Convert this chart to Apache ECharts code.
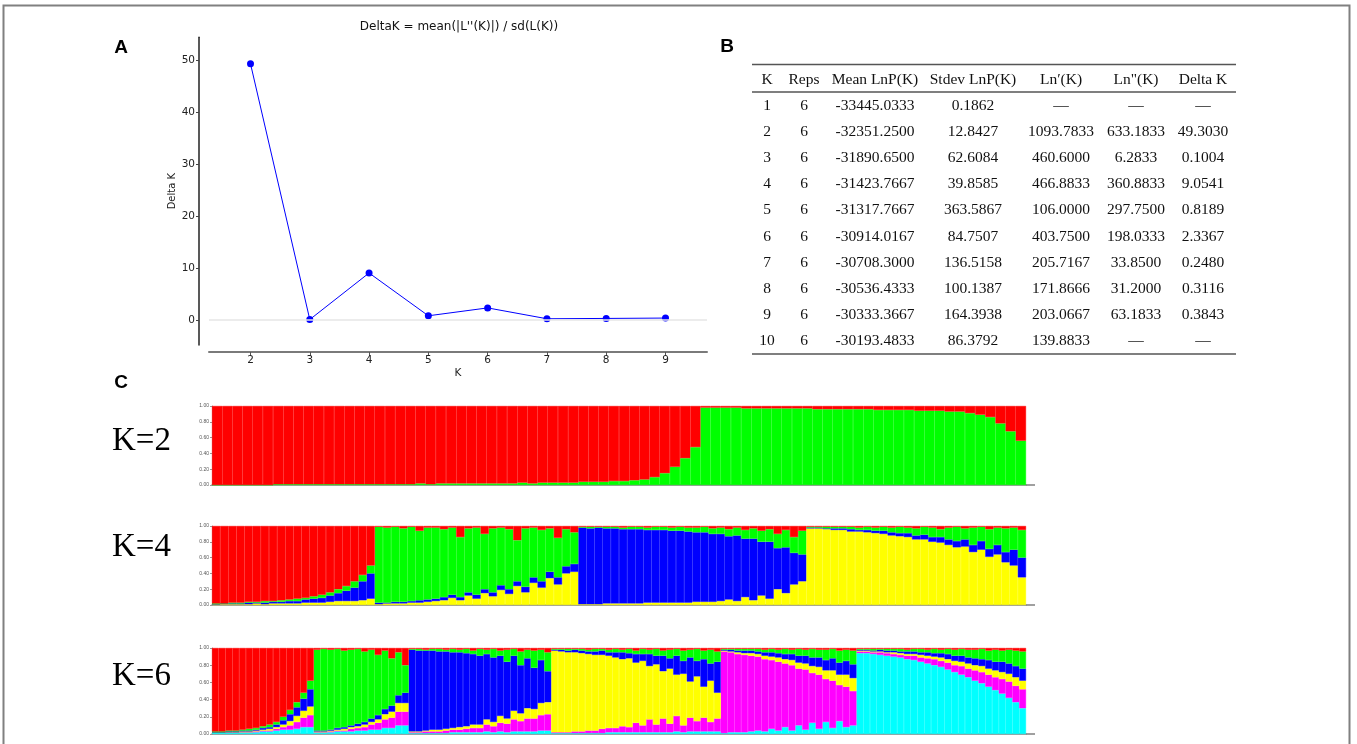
<!DOCTYPE html>
<html><head><meta charset="utf-8">
<script src="https://cdn.jsdelivr.net/npm/echarts@6.0.0/dist/echarts.min.js"></script>
<style>html,body{margin:0;padding:0;background:#fff}#c{width:1357px;height:744px}</style>
</head><body><div id="c"></div>
<script>
// ---------- Panel A data ----------
const kValues = [2, 3, 4, 5, 6, 7, 8, 9];
const deltaK = [49.3030, 0.1004, 9.0541, 0.8189, 2.3367, 0.2480, 0.3116, 0.3843];
const yTicksA = [0, 10, 20, 30, 40, 50];

// ---------- Panel B table ----------
const tableHeaders = ['K', 'Reps', 'Mean LnP(K)', 'Stdev LnP(K)', 'Ln\u2032(K)', 'Ln"(K)', 'Delta K'];
const tableK = ['1','2','3','4','5','6','7','8','9','10'];
const tableReps = ['6','6','6','6','6','6','6','6','6','6'];
const meanLnP = ['-33445.0333','-32351.2500','-31890.6500','-31423.7667','-31317.7667','-30914.0167','-30708.3000','-30536.4333','-30333.3667','-30193.4833'];
const stdevLnP = ['0.1862','12.8427','62.6084','39.8585','363.5867','84.7507','136.5158','100.1387','164.3938','86.3792'];
const lnPrime = ['\u2014','1093.7833','460.6000','466.8833','106.0000','403.7500','205.7167','171.8666','203.0667','139.8833'];
const lnDouble = ['\u2014','633.1833','6.2833','360.8833','297.7500','198.0333','33.8500','31.2000','63.1833','\u2014'];
const deltaKTable = ['\u2014','49.3030','0.1004','9.0541','0.8189','2.3367','0.2480','0.3116','0.3843','\u2014'];

// ---------- Panel C data (membership %, per individual) ----------
const structTicks = ['0.00','0.20','0.40','0.60','0.80','1.00'];
const panelLabels = ['K=2', 'K=4', 'K=6'];

const k2Green = [0,0,0,0,0,0,1, 1,1,1,1,1,1,1,1,1,1,1, 1,1,2,1,2,2,2,2,2,2, 2,2,3,2,3,3,3,3, 4,4,4,5, 5,6,7,10,15,23,34,48,
 98,98,98,98,97,97,97,97, 97,97,97,96,96,96,96,96, 96,95,95,95,95,94,94,94, 93,93,91,89,86,78,68,56];
const k2Red = [100,100,100,100,100,100,99, 99,99,99,99,99,99,99,99,99,99,99, 99,99,98,99,98,98,98,98,98,98, 98,98,97,98,97,97,97,97, 96,96,96,95, 95,94,93,90,85,77,66,52,
 2,2,2,2,3,3,3,3, 3,3,3,4,4,4,4,4, 4,5,5,5,5,6,6,6, 7,7,9,11,14,22,32,44];

const k4Red = [98,98,97,97,96,96,95,95,94,93,92,91,89,87,84,80,76,70,62,50,
 1,2,1,3,1,6,2,2,4,2,14,3,2,10,3,2,4,18,3,2,5,3,15,4,8,
 1,1,1,1,1,2,1,1,2,1,1,2,1,2,2,1,3,2,4,2,5,3,6,4,10,5,14,6,
 1,1,1,1,1,1,2,1,2,1,2,1,2,3,1,2,4,2,1,3,2,1,4,2,3,2,5];
const k4Green = [1,0,1,1,1,1,2,1,2,2,3,2,3,4,4,5,6,8,8,10,
 96,95,95,93,94,88,91,90,86,85,76,81,85,70,81,73,76,52,74,63,65,55,50,47,40,
 1,2,1,2,2,2,3,3,3,4,4,4,5,5,6,7,7,8,9,10,11,13,14,16,18,22,20,30,
 1,1,2,2,2,3,3,4,4,5,6,8,7,9,10,12,10,15,18,14,22,18,25,22,30,28,35];
const k4Blue = [0,1,1,1,2,1,2,2,2,3,3,4,5,6,8,10,13,17,24,32,
 2,1,2,2,2,3,3,3,4,4,4,4,5,5,5,6,6,6,7,7,8,8,9,9,10,
 97,96,97,95,95,94,94,94,92,92,92,91,91,90,88,88,86,85,80,83,74,78,68,72,52,58,40,34,
 1,1,1,2,2,3,2,3,3,4,4,4,5,5,6,6,7,7,8,9,9,11,10,12,13,20,25];
const k4Yellow = [1,1,1,1,1,2,1,2,2,2,2,3,3,3,4,5,5,5,6,8,
 1,2,2,2,3,3,4,5,6,9,6,12,8,15,11,19,14,24,16,28,22,34,26,40,42,
 1,1,1,2,2,2,2,2,3,3,3,3,3,3,4,4,4,5,7,5,10,6,12,8,20,15,26,30,
 97,97,96,95,95,93,93,92,91,90,88,87,86,83,83,80,79,76,73,74,67,70,61,64,54,50,35];

const k6Red = [97,97,96,96,95,94,93,91,89,86,80,72,63,52,38,
 2,1,2,1,3,2,1,4,2,8,3,12,5,20,
 1,1,2,1,1,2,1,2,1,3,1,2,1,3,2,1,4,2,3,2,5,
 1,1,1,1,1,2,1,1,2,1,2,1,3,1,2,1,3,2,1,3,2,1,3,2,4,
 1,1,1,1,1,1,2,1,2,1,2,1,2,1,2,2,1,3,2,3,
 1,1,1,1,1,1,1,2,1,1,2,1,2,1,2,1,2,2,1,3,2,3,2,3,4];
const k6Green = [1,1,1,1,1,2,2,2,3,3,4,5,6,7,10,
 94,95,93,92,89,88,87,82,80,70,68,55,50,32,
 1,2,1,2,3,2,4,3,5,4,8,5,10,6,14,8,16,10,20,12,22,
 1,1,2,1,2,2,3,2,3,4,3,5,4,6,5,8,6,10,8,12,9,14,10,16,12,
 1,1,2,2,2,3,3,4,4,6,5,8,7,10,9,12,11,14,13,16,
 1,1,2,1,2,2,3,2,3,4,3,5,4,6,7,8,9,10,12,11,14,13,16,18,20];
const k6Blue = [0,0,1,1,1,1,1,2,2,3,5,8,10,14,20,
 1,1,1,2,2,2,3,3,4,5,6,7,9,12,
 95,94,93,92,91,90,88,87,85,82,80,76,75,70,66,64,56,58,48,50,36,
 1,2,2,3,3,3,4,5,4,6,8,6,10,8,14,10,18,12,22,15,28,18,32,20,36,
 1,2,2,3,3,3,4,5,5,6,7,8,9,10,11,12,14,14,16,16,
 1,1,1,2,2,2,2,3,3,3,4,4,5,6,6,7,7,8,8,10,10,12,12,13,14];
const k6Yellow = [0,0,0,0,1,1,1,1,2,2,3,5,7,8,10,
 1,1,1,1,2,2,2,3,3,4,6,7,10,10,
 1,1,1,2,2,2,2,3,3,4,4,6,5,8,6,10,9,12,11,14,14,
 95,94,93,92,91,89,88,86,84,82,78,80,70,75,62,70,55,64,48,60,42,52,36,48,30,
 1,1,2,2,3,3,4,4,5,5,6,7,7,8,9,10,12,12,14,15,
 1,1,1,1,1,2,2,2,2,3,3,3,4,4,5,5,6,6,7,7,8,8,9,10,10];
const k6Magenta = [0,0,0,0,0,0,1,1,1,2,3,5,8,11,14,
 0,0,1,1,1,3,3,4,6,8,10,12,16,16,
 1,1,2,2,2,3,3,3,4,5,5,8,7,10,10,14,12,15,15,18,19,
 1,1,1,2,2,3,3,5,5,5,7,6,11,8,15,9,16,10,18,8,16,12,16,11,15,
 95,93,91,90,88,86,84,80,80,74,76,66,70,58,63,50,55,42,47,40,
 2,2,2,3,3,3,3,4,5,5,6,7,7,8,8,10,10,12,13,14,15,17,19,19,22];
const k6Cyan = [2,2,2,2,2,2,2,3,3,4,5,5,6,8,8,
 2,2,2,3,3,3,4,4,5,5,7,7,10,10,
 1,1,1,1,1,1,2,2,2,2,2,3,2,3,2,3,3,3,3,4,4,
 1,1,1,1,1,1,1,1,2,2,2,2,2,2,2,2,2,2,3,2,3,3,3,3,3,
 1,2,2,2,3,4,3,6,4,8,4,10,5,13,6,14,7,15,8,10,
 94,94,93,92,91,90,89,87,86,84,82,80,78,75,72,69,66,62,59,55,51,47,42,37,30];

// ---------- build ----------
const COLORS = {red:'#ff0000', green:'#00ff00', blue:'#0000ff', yellow:'#ffff00', magenta:'#ff00ff', cyan:'#00ffff'};
// stacking order bottom -> top
const panels = [
  [['green', k2Green], ['red', k2Red]],
  [['yellow', k4Yellow], ['blue', k4Blue], ['green', k4Green], ['red', k4Red]],
  [['cyan', k6Cyan], ['magenta', k6Magenta], ['yellow', k6Yellow], ['blue', k6Blue], ['green', k6Green], ['red', k6Red]]
];
function normalize(list){
  const n = list[0][1].length, tot = new Array(n).fill(0);
  list.forEach(([, a]) => a.forEach((v, i) => tot[i] += v));
  return list.map(([nm, a]) => [nm, a.map((v, i) => v / tot[i])]);
}

const grids = [
  {left:209, top:37.3, width:498, height:307.7},
  {left:212, top:406, width:814, height:79},
  {left:212, top:526, width:814, height:79},
  {left:212, top:648, width:814, height:86}
];
const xAxes = [{
  gridIndex:0, type:'value', min:1.3, max:9.7, offset:7,
  axisLine:{show:true, onZero:false, lineStyle:{color:'#7a7a7a', width:2}},
  axisTick:{show:true, customValues:kValues, length:4, lineStyle:{color:'#555'}},
  axisLabel:{customValues:kValues, fontSize:10.5, color:'#222', fontFamily:'DejaVu Sans', margin:3},
  splitLine:{show:false},
  name:'K', nameLocation:'middle', nameGap:16, nameTextStyle:{fontSize:10.5, color:'#222', fontFamily:'DejaVu Sans'}
}];
const yAxes = [{
  gridIndex:0, type:'value', min:-4.8, max:54.4, offset:10,
  axisLine:{show:true, onZero:false, lineStyle:{color:'#222', width:1.5}},
  axisTick:{show:true, customValues:yTicksA, length:3, lineStyle:{color:'#444'}},
  axisLabel:{customValues:yTicksA, fontSize:10.5, color:'#222', fontFamily:'DejaVu Sans', margin:4},
  splitLine:{show:false},
  name:'Delta K', nameLocation:'middle', nameGap:20, nameRotate:90,
  nameTextStyle:{fontSize:10, color:'#222', fontFamily:'DejaVu Sans'}
}];
const series = [{
  type:'line', xAxisIndex:0, yAxisIndex:0,
  data:kValues.map((k, i) => [k, deltaK[i]]),
  symbol:'circle', symbolSize:7, itemStyle:{color:'#0000ff'},
  lineStyle:{color:'#0000ff', width:1}, z:3,
  markLine:{silent:true, symbol:'none', label:{show:false}, animation:false,
    lineStyle:{color:'#e6e6e6', width:1.5, type:'solid'}, data:[{yAxis:0}]}
}];

panels.forEach((list, p) => {
  const idx = p + 1;
  xAxes.push({
    gridIndex:idx, type:'category', data:list[0][1].map((_, i) => String(i + 1)),
    boundaryGap:true,
    axisLine:{show:true, lineStyle:{color:'#808080', width:1.5}},
    axisTick:{show:false}, axisLabel:{show:false}, splitLine:{show:false}
  });
  yAxes.push({
    gridIndex:idx, type:'value', min:0, max:1, interval:0.2,
    axisLine:{show:true, lineStyle:{color:'#999', width:1}},
    axisTick:{show:true, length:2, lineStyle:{color:'#999'}},
    axisLabel:{fontSize:5, color:'#555', margin:3, formatter:(v) => structTicks[Math.round(v * 5)]},
    splitLine:{show:false}
  });
  normalize(list).forEach(([nm, vals]) => {
    series.push({
      type:'bar', xAxisIndex:idx, yAxisIndex:idx, stack:'s' + idx,
      barCategoryGap:'0%', barGap:'0%', data:vals, silent:true,
      itemStyle:{color:COLORS[nm], borderColor:COLORS[nm], borderWidth:0.4}
    });
  });
});

// graphics
const g = [];
g.push({type:'rect', shape:{x:3.5, y:5.5, width:1346, height:800}, style:{fill:'none', stroke:'#808080', lineWidth:2}, silent:true});
const bold = (t, x, y) => ({type:'text', style:{text:t, x:x, y:y, font:'bold 19px "Liberation Sans", Arial, sans-serif', fill:'#000', textAlign:'center', textVerticalAlign:'middle', align:'center', verticalAlign:'middle'}});
g.push(bold('A', 121, 48), bold('B', 727, 47), bold('C', 121, 383));
g.push({type:'text', style:{text:"DeltaK = mean(|L''(K)|) / sd(L(K))", x:459, y:27, font:'12px "DejaVu Sans", sans-serif', fill:'#111', textAlign:'center', textVerticalAlign:'middle', align:'center', verticalAlign:'middle'}});

// table
const colX = [767, 804, 875, 973, 1061, 1136, 1203];
const rowY0 = 106, rowDY = 26.1;
const tfont = '15.5px "Liberation Serif", "Times New Roman", serif';
const tcell = (t, x, y) => ({type:'text', style:{text:t, x:x, y:y, font:tfont, fill:'#111', textAlign:'center', textVerticalAlign:'middle', align:'center', verticalAlign:'middle'}});
tableHeaders.forEach((h, j) => g.push(tcell(h, colX[j], 79.5)));
const cols = [tableK, tableReps, meanLnP, stdevLnP, lnPrime, lnDouble, deltaKTable];
cols.forEach((col, j) => col.forEach((v, i) => g.push(tcell(v, colX[j], rowY0 + i * rowDY))));
[64.5, 92, 354].forEach(y => g.push({type:'line', shape:{x1:752, y1:y, x2:1236, y2:y}, style:{stroke:'#555', lineWidth:1.5}}));

// K labels
const kLabelY = [441, 547, 676];
panelLabels.forEach((t, i) => g.push({type:'text', style:{text:t, x:112, y:kLabelY[i], font:'33px "Liberation Serif", "Times New Roman", serif', fill:'#000', textAlign:'left', textVerticalAlign:'middle', align:'left', verticalAlign:'middle'}}));
// axis extension beyond plot right edge
[485, 605, 734].forEach(y => g.push({type:'line', shape:{x1:1026, y1:y, x2:1035, y2:y}, style:{stroke:'#808080', lineWidth:1.5}}));

const chart = echarts.init(document.getElementById('c'), null, {renderer:'canvas'});
chart.setOption({
  animation:false, backgroundColor:'#fff',
  grid:grids, xAxis:xAxes, yAxis:yAxes, series:series,
  graphic:{elements:g}
});
</script>
</body></html>
